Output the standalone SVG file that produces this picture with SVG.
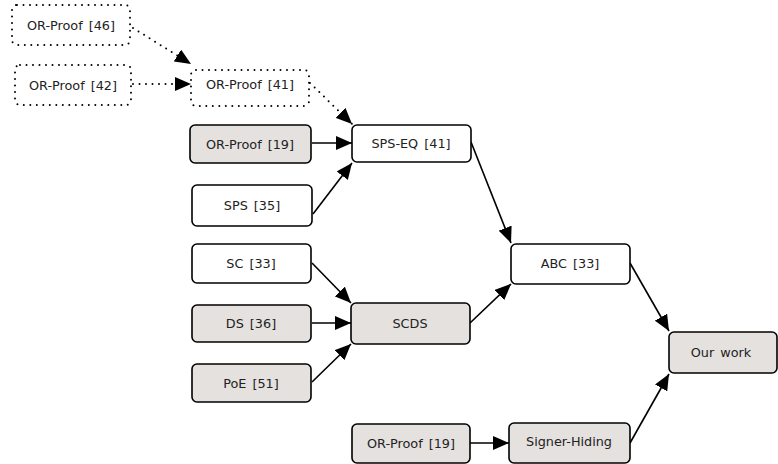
<svg xmlns="http://www.w3.org/2000/svg" width="778" height="464" viewBox="0 0 778 464">
<style>
.b{fill:#fff;stroke:#000;stroke-width:1.6}
.g{fill:#e4e1df;stroke:#000;stroke-width:1.6}
.d{fill:#fff;stroke:#000;stroke-width:2;stroke-dasharray:0 6.5;stroke-linecap:round}
text{font-family:"DejaVu Sans","Liberation Sans",sans-serif;font-size:12.8px;fill:#222;text-anchor:middle;dominant-baseline:central;word-spacing:2px}
.e{stroke:#000;stroke-width:1.6;fill:none;marker-end:url(#a)}
.ed{stroke:#000;stroke-width:2;fill:none;stroke-dasharray:0 6.5;stroke-linecap:round;marker-end:url(#a)}
</style>
<defs>
<marker id="a" markerUnits="userSpaceOnUse" markerWidth="16" markerHeight="14" viewBox="0 0 16 14" refX="16" refY="7" orient="auto">
<path d="M0,0L16,7L0,14z" fill="#000"/>
</marker>
</defs>
<g id="connectors">
<path class="ed" d="M133,28L191,64"/>
<path class="ed" d="M133,84L191,84"/>
<path class="ed" d="M310,83L352,124"/>
<path class="e" d="M312,143L352,143"/>
<path class="e" d="M313,214L352,163"/>
<path class="e" d="M471,142L511,243"/>
<path class="e" d="M312,263L351,303"/>
<path class="e" d="M312,323L351,323"/>
<path class="e" d="M312,382L351,344"/>
<path class="e" d="M470,323L511,284"/>
<path class="e" d="M630,263L669,331"/>
<path class="e" d="M470,443L509,443"/>
<path class="e" d="M630,443L669,374"/>
</g>
<g id="n46"><rect class="d" x="12" y="5" width="118" height="40" rx="5"/><text x="71" y="25">OR-Proof [46]</text></g>
<g id="n42"><rect class="d" x="15" y="65" width="116" height="40" rx="5"/><text x="73" y="85">OR-Proof [42]</text></g>
<g id="n41"><rect class="d" x="191" y="70" width="118" height="36" rx="5"/><text x="250" y="84">OR-Proof [41]</text></g>
<g id="n19a"><rect class="g" x="190" y="125" width="121" height="38" rx="5"/><text x="250" y="144">OR-Proof [19]</text></g>
<g id="spseq"><rect class="b" x="352" y="125" width="119" height="37" rx="5"/><text x="411" y="143">SPS-EQ [41]</text></g>
<g id="sps"><rect class="b" x="192" y="185" width="120" height="41" rx="5"/><text x="252" y="205">SPS [35]</text></g>
<g id="sc"><rect class="b" x="192" y="244" width="119" height="39" rx="5"/><text x="251" y="263">SC [33]</text></g>
<g id="ds"><rect class="g" x="192" y="305" width="119" height="37" rx="5"/><text x="251" y="323">DS [36]</text></g>
<g id="poe"><rect class="g" x="192" y="364" width="119" height="38" rx="5"/><text x="251" y="383">PoE [51]</text></g>
<g id="scds"><rect class="g" x="351" y="303" width="119" height="41" rx="5"/><text x="410" y="323">SCDS</text></g>
<g id="abc"><rect class="b" x="511" y="244" width="119" height="40" rx="5"/><text x="570" y="263">ABC [33]</text></g>
<g id="our"><rect class="g" x="669" y="332" width="108" height="41" rx="5"/><text x="721" y="352">Our work</text></g>
<g id="n19b"><rect class="g" x="352" y="424" width="118" height="39" rx="5"/><text x="411" y="443">OR-Proof [19]</text></g>
<g id="sh"><rect class="g" x="509" y="423" width="121" height="40" rx="5"/><text x="569" y="441">Signer-Hiding</text></g>
</svg>
